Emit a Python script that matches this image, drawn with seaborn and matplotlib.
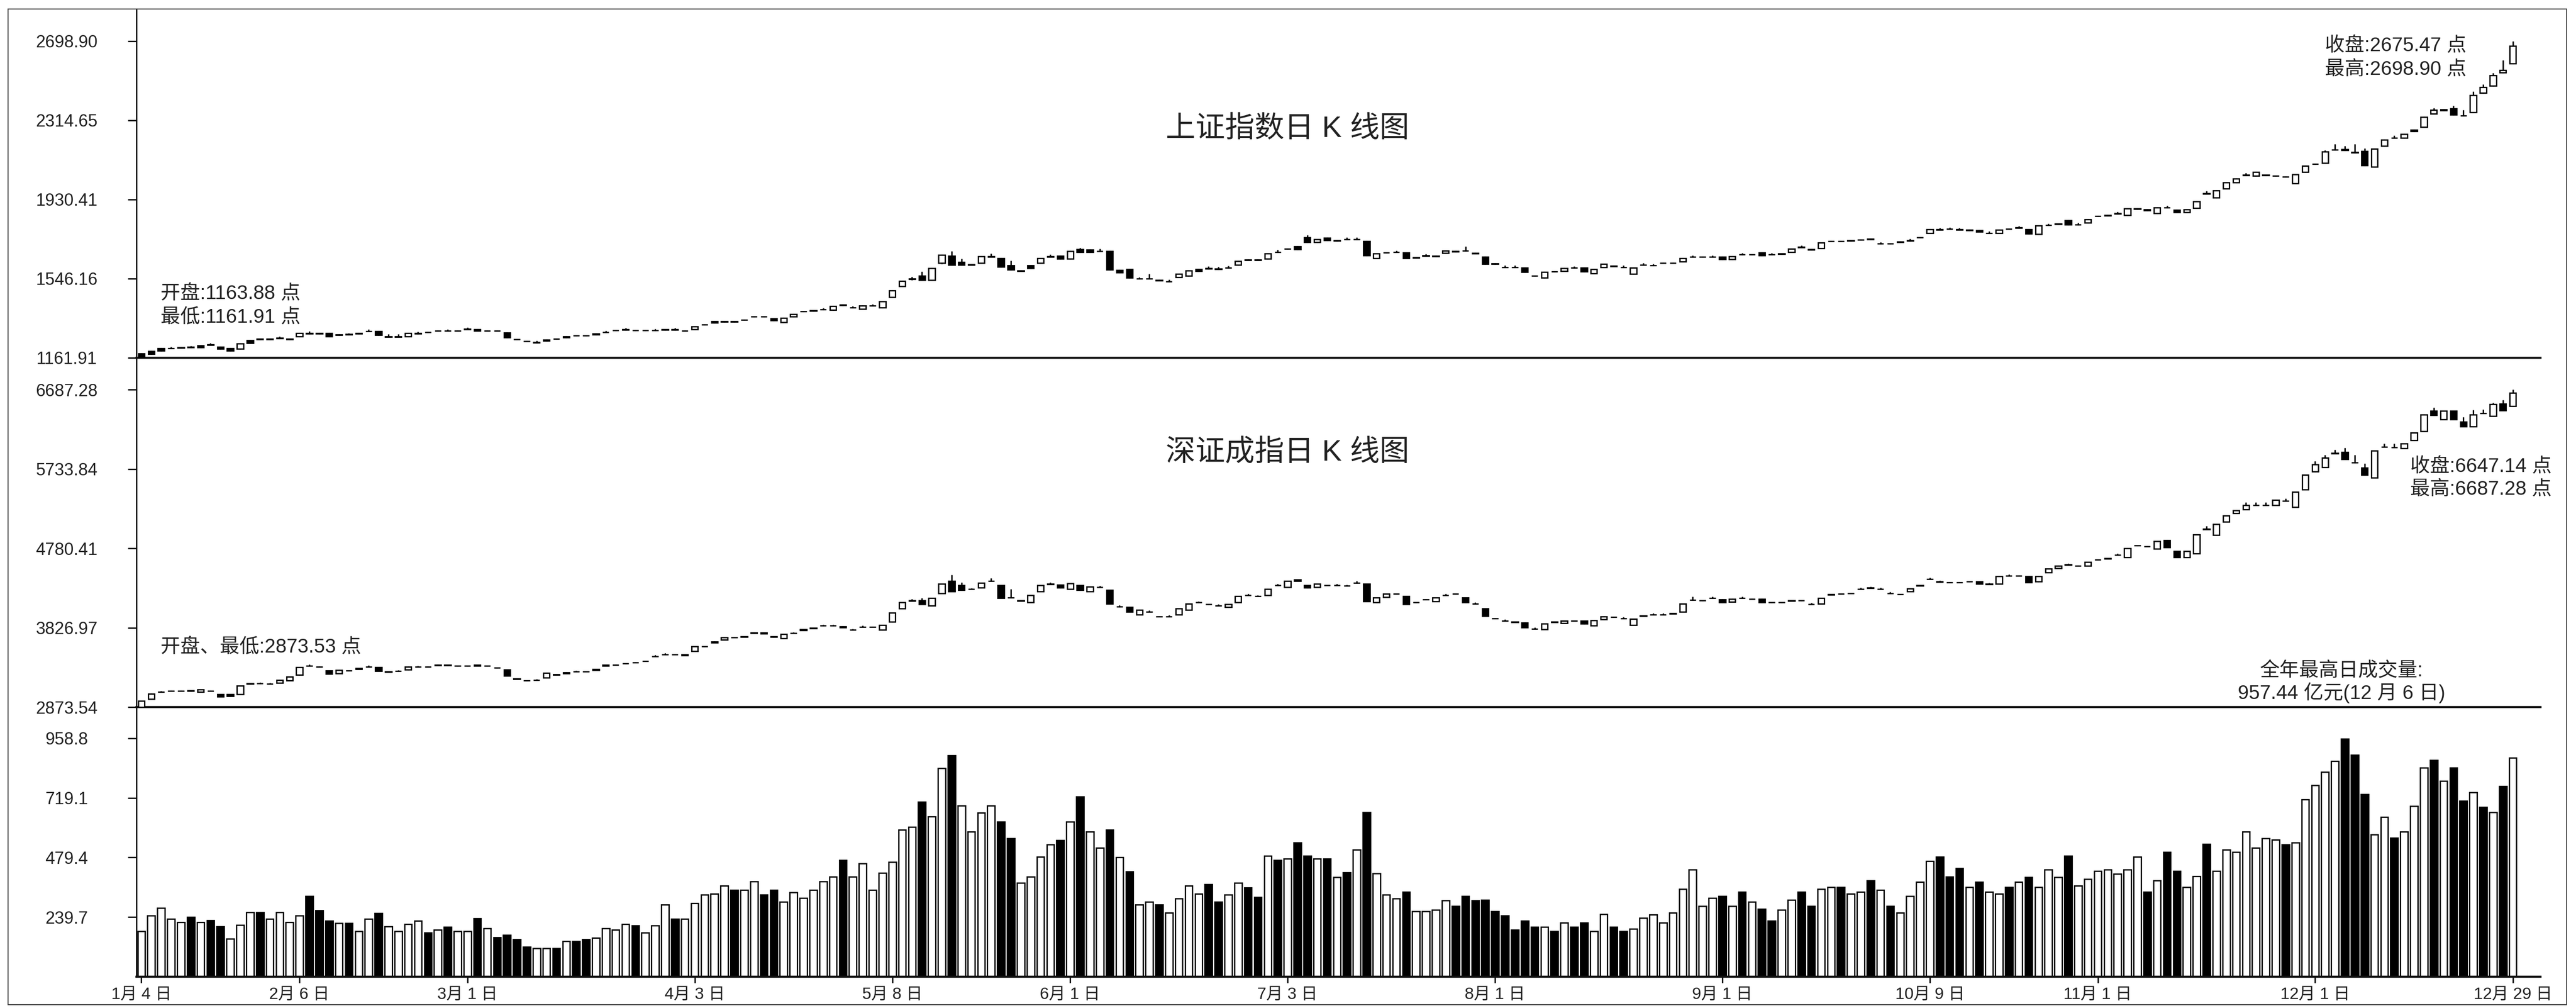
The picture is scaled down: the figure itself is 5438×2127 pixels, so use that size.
import numpy as np
import pandas as pd
import seaborn as sns
import matplotlib
matplotlib.use('Agg')
import matplotlib.pyplot as plt
from matplotlib.patches import Rectangle

# ---- 上证指数 daily K line (2006, 241 trading days) ----
sh_open = [
    1182, 1194, 1209, 1208, 1211, 1213, 1222, 1225, 1215, 1209,
    1206, 1247, 1252, 1252, 1257, 1252, 1265, 1280, 1280, 1281,
    1273, 1275, 1280, 1290, 1291, 1264, 1264, 1265, 1280, 1286,
    1292, 1292, 1292, 1301, 1300, 1292, 1292, 1284, 1251, 1242,
    1236, 1250, 1254, 1266, 1269, 1269, 1280, 1286, 1295, 1298,
    1295, 1295, 1295, 1298, 1298, 1292, 1299, 1322, 1338, 1337,
    1337, 1346, 1361, 1361, 1352, 1335, 1362, 1387, 1390, 1396,
    1394, 1420, 1405, 1400, 1414, 1406, 1457, 1510, 1544, 1560,
    1539, 1621, 1657, 1627, 1614, 1621, 1653, 1646, 1611, 1584,
    1610, 1621, 1653, 1656, 1643, 1688, 1686, 1679, 1679, 1587,
    1592, 1545, 1545, 1538, 1532, 1554, 1559, 1592, 1595, 1593,
    1599, 1613, 1637, 1637, 1643, 1675, 1692, 1702, 1747, 1723,
    1744, 1731, 1737, 1737, 1729, 1646, 1672, 1675, 1673, 1648,
    1657, 1657, 1670, 1678, 1681, 1669, 1652, 1619, 1601, 1601,
    1599, 1559, 1551, 1580, 1584, 1598, 1599, 1572, 1602, 1607,
    1601, 1569, 1613, 1610, 1621, 1621, 1628, 1651, 1651, 1651,
    1652, 1640, 1663, 1663, 1673, 1663, 1666, 1676, 1699, 1687,
    1694, 1728, 1728, 1731, 1734, 1740, 1716, 1716, 1726, 1731,
    1746, 1768, 1784, 1787, 1784, 1783, 1780, 1767, 1768, 1787,
    1793, 1785, 1762, 1805, 1811, 1830, 1808, 1818, 1850, 1853,
    1862, 1854, 1885, 1883, 1863, 1891, 1880, 1869, 1889, 1959,
    1940, 1984, 2014, 2048, 2046, 2048, 2045, 2041, 2008, 2064,
    2102, 2107, 2171, 2175, 2159, 2165, 2089, 2190, 2229, 2230,
    2268, 2282, 2347, 2368, 2371, 2337, 2354, 2448, 2483, 2547,
    2590]
sh_close = [
    1164, 1180, 1197, 1209, 1212, 1214, 1212, 1226, 1206, 1197,
    1231, 1234, 1253, 1253, 1258, 1253, 1281, 1281, 1281, 1265,
    1274, 1276, 1281, 1291, 1273, 1265, 1265, 1281, 1281, 1287,
    1293, 1293, 1293, 1302, 1294, 1293, 1293, 1261, 1252, 1243,
    1237, 1244, 1255, 1260, 1270, 1270, 1275, 1287, 1296, 1299,
    1296, 1296, 1296, 1299, 1299, 1293, 1314, 1323, 1333, 1338,
    1338, 1347, 1362, 1362, 1344, 1356, 1374, 1388, 1391, 1397,
    1412, 1417, 1406, 1415, 1415, 1436, 1489, 1534, 1545, 1539,
    1596, 1661, 1613, 1613, 1615, 1654, 1654, 1604, 1590, 1585,
    1596, 1644, 1654, 1642, 1679, 1674, 1674, 1680, 1590, 1575,
    1550, 1546, 1546, 1539, 1533, 1569, 1585, 1582, 1596, 1594,
    1600, 1631, 1638, 1638, 1669, 1676, 1690, 1688, 1723, 1736,
    1732, 1732, 1738, 1738, 1658, 1667, 1673, 1676, 1646, 1649,
    1658, 1655, 1682, 1679, 1682, 1670, 1617, 1617, 1602, 1602,
    1578, 1560, 1578, 1581, 1596, 1599, 1581, 1593, 1617, 1608,
    1602, 1599, 1614, 1611, 1622, 1622, 1646, 1652, 1652, 1652,
    1640, 1655, 1664, 1664, 1658, 1664, 1667, 1691, 1700, 1688,
    1720, 1729, 1729, 1732, 1735, 1738, 1717, 1717, 1723, 1732,
    1747, 1785, 1785, 1788, 1785, 1780, 1775, 1768, 1783, 1788,
    1794, 1765, 1803, 1806, 1812, 1809, 1809, 1833, 1851, 1854,
    1863, 1886, 1886, 1877, 1892, 1892, 1869, 1883, 1922, 1960,
    1975, 2014, 2032, 2049, 2064, 2049, 2046, 2040, 2052, 2094,
    2103, 2163, 2172, 2170, 2160, 2095, 2177, 2221, 2230, 2248,
    2262, 2330, 2365, 2362, 2342, 2338, 2436, 2475, 2533, 2558,
    2675.47]
sh_high = [
    1184, 1196, 1211, 1214, 1214, 1220, 1224, 1233, 1217, 1211,
    1233, 1249, 1255, 1255, 1266, 1255, 1283, 1291, 1283, 1283,
    1276, 1282, 1283, 1300, 1293, 1277, 1277, 1283, 1288, 1289,
    1295, 1300, 1295, 1309, 1302, 1295, 1295, 1286, 1254, 1245,
    1244, 1252, 1257, 1268, 1272, 1272, 1282, 1294, 1298, 1306,
    1298, 1298, 1303, 1301, 1306, 1295, 1316, 1325, 1340, 1340,
    1340, 1349, 1364, 1364, 1354, 1358, 1376, 1390, 1393, 1404,
    1414, 1422, 1413, 1417, 1422, 1438, 1491, 1536, 1556, 1581,
    1598, 1664, 1680, 1642, 1617, 1656, 1669, 1648, 1634, 1587,
    1612, 1646, 1664, 1658, 1681, 1695, 1688, 1692, 1681, 1589,
    1594, 1553, 1569, 1541, 1541, 1571, 1587, 1594, 1606, 1603,
    1608, 1633, 1640, 1640, 1671, 1686, 1694, 1704, 1757, 1738,
    1746, 1734, 1746, 1746, 1731, 1669, 1675, 1683, 1675, 1651,
    1665, 1659, 1684, 1681, 1702, 1672, 1654, 1621, 1610, 1610,
    1601, 1562, 1580, 1583, 1598, 1606, 1601, 1595, 1619, 1610,
    1610, 1601, 1621, 1618, 1624, 1624, 1648, 1659, 1654, 1659,
    1654, 1657, 1671, 1666, 1675, 1671, 1669, 1693, 1708, 1690,
    1722, 1731, 1731, 1734, 1737, 1742, 1724, 1719, 1728, 1739,
    1749, 1787, 1793, 1795, 1792, 1785, 1782, 1776, 1785, 1790,
    1801, 1787, 1805, 1814, 1814, 1832, 1817, 1835, 1853, 1856,
    1871, 1888, 1888, 1885, 1894, 1900, 1882, 1885, 1924, 1972,
    1977, 2016, 2034, 2060, 2066, 2051, 2048, 2043, 2054, 2096,
    2105, 2170, 2200, 2190, 2200, 2178, 2179, 2223, 2240, 2250,
    2270, 2332, 2375, 2370, 2385, 2365, 2455, 2490, 2545, 2606,
    2698.90]
sh_low = [
    1161.91, 1178, 1195, 1206, 1209, 1211, 1210, 1223, 1204, 1195,
    1204, 1232, 1250, 1250, 1255, 1250, 1263, 1278, 1278, 1263,
    1271, 1273, 1278, 1288, 1271, 1262, 1262, 1263, 1278, 1284,
    1290, 1290, 1290, 1299, 1292, 1290, 1290, 1259, 1249, 1240,
    1234, 1242, 1252, 1258, 1267, 1267, 1273, 1284, 1293, 1296,
    1293, 1293, 1293, 1296, 1296, 1290, 1297, 1320, 1331, 1335,
    1335, 1344, 1359, 1359, 1342, 1333, 1360, 1385, 1388, 1394,
    1392, 1415, 1403, 1398, 1412, 1404, 1455, 1508, 1540, 1537,
    1537, 1618, 1610, 1610, 1612, 1619, 1651, 1602, 1588, 1582,
    1594, 1619, 1651, 1640, 1641, 1672, 1672, 1677, 1588, 1573,
    1548, 1543, 1543, 1536, 1530, 1552, 1557, 1580, 1593, 1591,
    1597, 1611, 1635, 1635, 1641, 1673, 1688, 1686, 1721, 1721,
    1730, 1729, 1735, 1735, 1656, 1644, 1670, 1673, 1644, 1646,
    1655, 1653, 1668, 1676, 1679, 1667, 1615, 1615, 1599, 1599,
    1576, 1557, 1549, 1578, 1582, 1596, 1579, 1570, 1600, 1605,
    1599, 1567, 1611, 1608, 1619, 1619, 1626, 1649, 1649, 1649,
    1638, 1638, 1661, 1661, 1656, 1661, 1664, 1674, 1697, 1685,
    1692, 1726, 1726, 1729, 1732, 1736, 1714, 1714, 1721, 1729,
    1744, 1766, 1782, 1785, 1782, 1778, 1773, 1765, 1766, 1785,
    1791, 1763, 1760, 1803, 1809, 1807, 1806, 1816, 1848, 1851,
    1860, 1852, 1883, 1875, 1861, 1889, 1867, 1867, 1887, 1957,
    1938, 1982, 2012, 2046, 2044, 2046, 2043, 2038, 2006, 2062,
    2100, 2105, 2169, 2168, 2157, 2093, 2087, 2188, 2227, 2228,
    2260, 2280, 2345, 2360, 2340, 2335, 2352, 2446, 2481, 2545,
    2588]

# ---- 深证成指 daily K line ----
sz_open = [
    2873.53, 2973, 3055, 3068, 3068, 3072, 3056, 3068, 3027, 3025,
    3027, 3160, 3157, 3154, 3165, 3194, 3258, 3368, 3359, 3310,
    3280, 3309, 3340, 3359, 3350, 3300, 3305, 3322, 3359, 3359,
    3382, 3380, 3366, 3366, 3378, 3366, 3344, 3323, 3212, 3190,
    3197, 3228, 3263, 3290, 3300, 3300, 3328, 3378, 3381, 3395,
    3410, 3425, 3483, 3506, 3506, 3505, 3543, 3601, 3660, 3683,
    3711, 3718, 3770, 3765, 3723, 3698, 3762, 3805, 3821, 3850,
    3850, 3843, 3799, 3836, 3836, 3800, 3896, 4057, 4151, 4152,
    4094, 4240, 4387, 4336, 4293, 4306, 4386, 4336, 4188, 4151,
    4130, 4262, 4350, 4343, 4292, 4336, 4262, 4313, 4277, 4078,
    4072, 3984, 4019, 3961, 3961, 3984, 4042, 4129, 4107, 4093,
    4072, 4130, 4217, 4203, 4218, 4335, 4314, 4402, 4336, 4314,
    4337, 4335, 4328, 4364, 4351, 4130, 4196, 4232, 4204, 4131,
    4166, 4145, 4217, 4234, 4189, 4114, 4057, 3938, 3909, 3895,
    3888, 3814, 3807, 3895, 3881, 3909, 3910, 3851, 3925, 3955,
    3938, 3859, 3970, 3983, 3983, 3997, 4020, 4159, 4153, 4181,
    4167, 4137, 4181, 4173, 4174, 4129, 4131, 4151, 4153, 4107,
    4115, 4225, 4232, 4239, 4291, 4305, 4291, 4239, 4227, 4262,
    4336, 4408, 4379, 4372, 4372, 4381, 4380, 4350, 4351, 4452,
    4452, 4446, 4380, 4490, 4541, 4584, 4570, 4571, 4643, 4658,
    4702, 4673, 4812, 4806, 4776, 4879, 4747, 4673, 4717, 5010,
    4937, 5099, 5202, 5250, 5299, 5299, 5300, 5349, 5277, 5487,
    5700, 5756, 5921, 5937, 5809, 5750, 5631, 5998, 5993, 5983,
    6076, 6184, 6432, 6330, 6432, 6302, 6241, 6403, 6370, 6518,
    6490]
sz_close = [
    2945, 3034, 3056, 3069, 3069, 3065, 3084, 3069, 3000, 3003,
    3130, 3150, 3158, 3155, 3200, 3238, 3352, 3369, 3360, 3272,
    3320, 3310, 3330, 3360, 3306, 3295, 3306, 3360, 3360, 3360,
    3375, 3372, 3367, 3367, 3370, 3367, 3345, 3250, 3213, 3191,
    3198, 3286, 3264, 3280, 3301, 3301, 3318, 3368, 3382, 3396,
    3411, 3426, 3484, 3507, 3507, 3495, 3602, 3602, 3650, 3712,
    3712, 3719, 3760, 3755, 3715, 3749, 3763, 3795, 3822, 3851,
    3851, 3830, 3800, 3837, 3837, 3859, 4006, 4130, 4152, 4108,
    4182, 4351, 4262, 4277, 4292, 4365, 4387, 4182, 4189, 4152,
    4218, 4336, 4351, 4306, 4358, 4277, 4321, 4314, 4115, 4079,
    4020, 4042, 4020, 3962, 3962, 4057, 4115, 4130, 4108, 4094,
    4108, 4204, 4218, 4204, 4292, 4336, 4387, 4390, 4306, 4351,
    4336, 4336, 4329, 4365, 4145, 4189, 4233, 4233, 4108, 4130,
    4167, 4189, 4218, 4233, 4130, 4115, 3969, 3939, 3910, 3896,
    3829, 3815, 3874, 3896, 3910, 3910, 3874, 3917, 3962, 3954,
    3939, 3932, 3969, 3984, 3984, 3998, 4115, 4160, 4152, 4182,
    4130, 4174, 4182, 4174, 4130, 4130, 4130, 4152, 4152, 4108,
    4182, 4226, 4233, 4240, 4292, 4306, 4292, 4240, 4226, 4299,
    4330, 4409, 4380, 4373, 4373, 4380, 4351, 4351, 4446, 4453,
    4453, 4373, 4446, 4534, 4571, 4585, 4571, 4615, 4644, 4659,
    4703, 4783, 4813, 4805, 4864, 4791, 4673, 4747, 4945, 5011,
    5070, 5172, 5238, 5300, 5300, 5300, 5362, 5350, 5455, 5661,
    5790, 5870, 5922, 5851, 5810, 5660, 5951, 5999, 5994, 6039,
    6170, 6387, 6378, 6432, 6330, 6245, 6387, 6404, 6510, 6438,
    6647.14]
sz_high = [
    2947, 3036, 3066, 3071, 3071, 3074, 3086, 3071, 3029, 3027,
    3132, 3162, 3168, 3165, 3202, 3240, 3354, 3385, 3362, 3312,
    3322, 3312, 3342, 3375, 3352, 3302, 3316, 3362, 3370, 3362,
    3384, 3382, 3369, 3369, 3380, 3369, 3347, 3325, 3215, 3193,
    3210, 3288, 3266, 3292, 3311, 3303, 3330, 3380, 3384, 3398,
    3413, 3428, 3500, 3520, 3509, 3507, 3604, 3604, 3662, 3714,
    3714, 3721, 3772, 3767, 3725, 3751, 3775, 3807, 3824, 3866,
    3866, 3845, 3815, 3850, 3839, 3861, 4008, 4132, 4170, 4180,
    4184, 4353, 4460, 4370, 4300, 4367, 4420, 4338, 4290, 4154,
    4220, 4338, 4370, 4345, 4360, 4338, 4323, 4330, 4279, 4095,
    4074, 4044, 4035, 3964, 3977, 4059, 4117, 4145, 4110, 4109,
    4110, 4206, 4233, 4219, 4294, 4351, 4389, 4404, 4338, 4353,
    4339, 4351, 4344, 4390, 4353, 4191, 4235, 4235, 4206, 4133,
    4169, 4191, 4233, 4236, 4191, 4130, 4059, 3941, 3925, 3898,
    3890, 3830, 3876, 3898, 3912, 3912, 3912, 3919, 3964, 3957,
    3954, 3934, 3972, 3999, 3999, 4000, 4117, 4200, 4155, 4197,
    4169, 4176, 4197, 4176, 4176, 4132, 4133, 4154, 4155, 4123,
    4184, 4228, 4235, 4242, 4310, 4320, 4310, 4255, 4229, 4301,
    4338, 4430, 4395, 4375, 4375, 4383, 4382, 4366, 4448, 4468,
    4455, 4448, 4448, 4536, 4573, 4600, 4573, 4617, 4646, 4661,
    4718, 4785, 4815, 4808, 4866, 4881, 4749, 4749, 4947, 5050,
    5072, 5174, 5240, 5330, 5330, 5330, 5364, 5380, 5457, 5663,
    5830, 5900, 5965, 5990, 5900, 5800, 5953, 6040, 6040, 6041,
    6172, 6389, 6470, 6434, 6434, 6360, 6440, 6450, 6530, 6560,
    6687.28]
sz_low = [
    2873.53, 2971, 3053, 3066, 3066, 3063, 3054, 3066, 2998, 3001,
    3025, 3148, 3155, 3152, 3163, 3192, 3256, 3366, 3357, 3270,
    3278, 3307, 3328, 3357, 3304, 3293, 3303, 3320, 3357, 3357,
    3373, 3370, 3364, 3364, 3368, 3364, 3342, 3248, 3210, 3188,
    3195, 3226, 3261, 3278, 3298, 3298, 3316, 3366, 3379, 3393,
    3408, 3423, 3481, 3504, 3504, 3493, 3541, 3599, 3648, 3681,
    3709, 3716, 3758, 3753, 3713, 3696, 3760, 3793, 3819, 3848,
    3848, 3828, 3797, 3834, 3834, 3798, 3894, 4055, 4149, 4106,
    4092, 4238, 4260, 4275, 4290, 4304, 4384, 4180, 4187, 4149,
    4128, 4260, 4348, 4304, 4290, 4275, 4260, 4311, 4113, 4076,
    4018, 3982, 4017, 3959, 3959, 3982, 4040, 4127, 4105, 4091,
    4070, 4128, 4215, 4201, 4216, 4333, 4312, 4388, 4304, 4312,
    4334, 4333, 4326, 4362, 4143, 4128, 4194, 4230, 4106, 4128,
    4164, 4143, 4215, 4231, 4128, 4112, 3967, 3936, 3907, 3893,
    3827, 3812, 3805, 3893, 3879, 3907, 3872, 3849, 3923, 3952,
    3936, 3857, 3967, 3981, 3981, 3995, 4018, 4157, 4150, 4179,
    4128, 4135, 4179, 4171, 4128, 4127, 4128, 4149, 4150, 4105,
    4113, 4223, 4230, 4237, 4289, 4303, 4289, 4237, 4224, 4260,
    4328, 4406, 4377, 4370, 4370, 4378, 4349, 4348, 4349, 4450,
    4450, 4371, 4378, 4488, 4539, 4582, 4568, 4569, 4641, 4656,
    4700, 4671, 4810, 4803, 4774, 4789, 4671, 4671, 4715, 5008,
    4935, 5097, 5200, 5248, 5297, 5297, 5298, 5347, 5275, 5485,
    5698, 5754, 5919, 5849, 5807, 5658, 5629, 5996, 5991, 5981,
    6074, 6182, 6376, 6328, 6328, 6243, 6239, 6401, 6368, 6436,
    6480]

# ---- 成交量 (亿元); 1 = 白柱, 0 = 黑柱 ----
volume = [
    183, 245, 277, 232, 220, 240, 220, 227, 203, 153,
    208, 259, 259, 232, 259, 220, 245, 324, 267, 225,
    215, 215, 183, 232, 255, 203, 183, 212, 225, 178,
    188, 200, 183, 183, 235, 195, 158, 168, 151, 121,
    114, 114, 114, 143, 143, 151, 156, 195, 188, 212,
    205, 178, 205, 289, 232, 232, 296, 329, 334, 366,
    348, 348, 383, 329, 348, 302, 339, 316, 348, 383,
    403, 469, 403, 455, 348, 418, 462, 591, 603, 704,
    645, 838, 890, 689, 583, 660, 689, 623, 556, 378,
    403, 482, 531, 549, 623, 724, 583, 519, 591, 480,
    423, 289, 302, 289, 257, 314, 366, 334, 371, 302,
    329, 378, 358, 321, 487, 469, 474, 539, 487, 474,
    474, 400, 420, 511, 662, 415, 329, 314, 341, 264,
    264, 269, 306, 284, 324, 306, 309, 264, 245, 188,
    225, 200, 200, 183, 218, 200, 218, 183, 252, 200,
    183, 193, 237, 250, 218, 257, 353, 430, 284, 316,
    324, 284, 341, 302, 272, 225, 269, 309, 341, 284,
    353, 361, 361, 334, 341, 386, 348, 284, 257, 324,
    381, 465, 482, 403, 437, 361, 381, 341, 334, 361,
    381, 400, 361, 430, 400, 487, 366, 393, 425, 430,
    413, 430, 482, 341, 386, 502, 425, 361, 405, 534,
    425, 511, 502, 583, 519, 556, 551, 531, 539, 712,
    771, 823, 867, 957.44, 892, 734, 571, 642, 559, 583,
    687, 840, 872, 788, 840, 707, 741, 682, 662, 766,
    880]
vol_up = [
    1, 1, 1, 1, 1, 0, 1, 0, 0, 1,
    1, 1, 0, 1, 1, 1, 1, 0, 0, 0,
    1, 0, 1, 1, 0, 1, 1, 1, 1, 0,
    1, 0, 1, 1, 0, 1, 0, 0, 0, 0,
    1, 1, 0, 1, 0, 0, 1, 1, 1, 1,
    0, 1, 1, 1, 0, 1, 1, 1, 1, 1,
    0, 1, 1, 0, 0, 1, 1, 1, 1, 1,
    1, 0, 1, 1, 1, 1, 1, 1, 1, 0,
    1, 1, 0, 1, 1, 1, 1, 0, 0, 1,
    1, 1, 1, 0, 1, 0, 1, 1, 0, 1,
    0, 1, 1, 0, 1, 1, 1, 1, 0, 0,
    1, 1, 0, 0, 1, 0, 1, 0, 0, 1,
    0, 1, 0, 1, 0, 1, 1, 1, 0, 1,
    1, 1, 1, 0, 0, 0, 0, 0, 0, 0,
    0, 0, 1, 0, 1, 0, 0, 1, 1, 0,
    0, 1, 1, 1, 1, 1, 1, 1, 1, 1,
    0, 1, 0, 1, 0, 0, 1, 1, 0, 0,
    1, 1, 0, 1, 1, 0, 1, 0, 1, 1,
    1, 1, 0, 0, 0, 1, 0, 1, 1, 0,
    1, 0, 1, 1, 1, 0, 1, 1, 1, 1,
    1, 1, 1, 0, 1, 0, 0, 1, 1, 0,
    1, 1, 1, 1, 1, 1, 1, 0, 1, 1,
    1, 1, 1, 0, 0, 0, 1, 1, 0, 1,
    1, 1, 0, 1, 0, 0, 1, 0, 1, 0,
    1]

date_pos = [0, 16, 33, 56, 76, 94, 116, 137, 160, 181, 198, 220, 240]
date_labels = ['1月 4 日', '2月 6 日', '3月 1 日', '4月 3 日', '5月 8 日', '6月 1 日',
               '7月 3 日', '8月 1 日', '9月 1 日', '10月 9 日', '11月 1 日',
               '12月 1 日', '12月 29 日']
sh_ticks = ['1161.91', '1546.16', '1930.41', '2314.65', '2698.90']
sz_ticks = ['2873.54', '3826.97', '4780.41', '5733.84', '6687.28']
vol_ticks = ['239.7', '479.4', '719.1', '958.8']

sns.set_style('white')
plt.rcParams['font.family'] = ['Liberation Sans', 'Noto Sans CJK SC', 'DejaVu Sans']

W, H, DPI = 5438, 2127, 100
AX_L, AX_R = 288, 5363
fig = plt.figure(figsize=(W / DPI, H / DPI), dpi=DPI, facecolor='white')


def box(top, bottom):
    return [AX_L / W, 1 - bottom / H, (AX_R - AX_L) / W, (bottom - top) / H]


ax_sh = fig.add_axes(box(19, 755))
ax_sz = fig.add_axes(box(755, 1492))
ax_vol = fig.add_axes(box(1492, 2061))


def candles(ax, o, c, h, l):
    o, c, h, l = map(np.asarray, (o, c, h, l))
    x = np.arange(len(o))
    ax.vlines(x, l, h, color='black', lw=2.2, zorder=2)
    up = c >= o
    ax.bar(x, np.abs(c - o), bottom=np.minimum(o, c), width=0.64,
           color=np.where(up, 'white', 'black'), edgecolor='black',
           linewidth=2.0, zorder=3)


candles(ax_sh, sh_open, sh_close, sh_high, sh_low)
candles(ax_sz, sz_open, sz_close, sz_high, sz_low)

vol_df = pd.DataFrame({'day': np.arange(len(volume)), 'vol': volume,
                       'dir': ['up' if u else 'down' for u in vol_up]})
sns.barplot(data=vol_df, x='day', y='vol', hue='dir',
            palette={'up': 'white', 'down': 'black'}, native_scale=True,
            dodge=False, width=0.75, saturation=1, edgecolor='black',
            linewidth=2.0, errorbar=None, legend=False, ax=ax_vol)

ax_sh.set_ylim(1161.91, 2855.3)
ax_sz.set_ylim(2873.54, 7068.7)
ax_vol.set_ylim(0, 1084.6)

ax_sh.set_yticks([float(t) for t in sh_ticks], labels=sh_ticks)
ax_sz.set_yticks([float(t) for t in sz_ticks], labels=sz_ticks)
ax_vol.set_yticks([float(t) for t in vol_ticks], labels=vol_ticks)

for ax in (ax_sh, ax_sz, ax_vol):
    ax.set_xlim(-0.5, 242.8)
    ax.set_xlabel('')
    ax.set_ylabel('')
    ax.set_facecolor('none')
    for s in ('top', 'right'):
        ax.spines[s].set_visible(False)
    ax.spines['left'].set_linewidth(2.2)
    ax.spines['bottom'].set_linewidth(3.2)
    ax.spines['left'].set_color('#111111')
    ax.spines['bottom'].set_color('#111111')
    ax.tick_params(axis='y', direction='out', length=13, width=2.2, pad=93,
                   labelsize=26, color='#111111', labelcolor='#222222', left=True)
    for t in ax.get_yticklabels():
        t.set_horizontalalignment('center')

for ax in (ax_sh, ax_sz):
    ax.set_xticks([])

ax_vol.set_xticks(date_pos, labels=date_labels)
ax_vol.tick_params(axis='x', direction='out', length=9, width=2.2, pad=6,
                   labelsize=25, color='#111111', labelcolor='#222222', bottom=True)


def ftext(x, y, s, **kw):
    kw.setdefault('color', '#222222')
    kw.setdefault('va', 'center')
    fig.text(x / W, 1 - y / H, s, **kw)


ftext(2718, 273, '上证指数日 K 线图', fontsize=45, ha='center')
ftext(2718, 956, '深证成指日 K 线图', fontsize=45, ha='center')

ftext(339, 620, '开盘:1163.88 点', fontsize=30, ha='left')
ftext(339, 670, '最低:1161.91 点', fontsize=30, ha='left')
ftext(339, 1366, '开盘、最低:2873.53 点', fontsize=30, ha='left')

ftext(4908, 97, '收盘:2675.47 点', fontsize=30, ha='left')
ftext(4908, 147, '最高:2698.90 点', fontsize=30, ha='left')
ftext(5088, 985, '收盘:6647.14 点', fontsize=30, ha='left')
ftext(5088, 1033, '最高:6687.28 点', fontsize=30, ha='left')

ftext(4943, 1416, '全年最高日成交量:', fontsize=30, ha='center')
ftext(4943, 1462, '957.44 亿元(12 月 6 日)', fontsize=30, ha='center')

fig.add_artist(Rectangle((17 / W, 1 - 2120 / H), (5418 - 17) / W, (2120 - 19) / H,
                         transform=fig.transFigure, fill=False, lw=1.5,
                         edgecolor='#444444'))

fig.savefig('out.png', dpi=DPI, facecolor='white')
